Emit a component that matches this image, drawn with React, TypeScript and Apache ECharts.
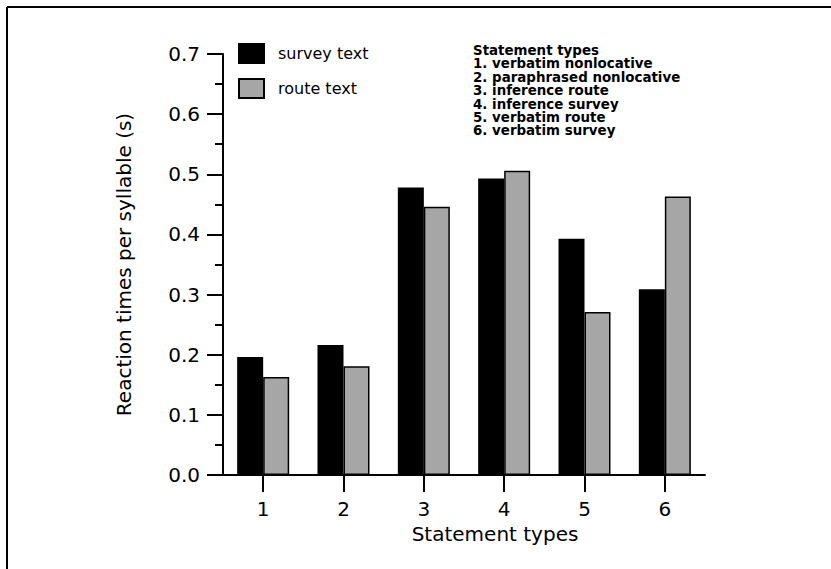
import React, { useEffect, useRef } from "react";
import * as echarts from "echarts";

const categories = ["1", "2", "3", "4", "5", "6"];
const surveyText = [0.196, 0.216, 0.478, 0.493, 0.393, 0.309];
const routeText = [0.163, 0.181, 0.446, 0.506, 0.271, 0.463];
const seriesNames = ["survey text", "route text"];
const statementTypes = [
  "Statement types",
  "1. verbatim nonlocative",
  "2. paraphrased nonlocative",
  "3. inference route",
  "4. inference survey",
  "5. verbatim route",
  "6. verbatim survey",
];

const FONT = "DejaVu Sans";

export default function App() {
  const ref = useRef<HTMLDivElement>(null);
  useEffect(() => {
    document.body.style.margin = "0";
    const chart = echarts.init(ref.current!, null, { renderer: "svg" });
    const legendLines = statementTypes.map((t, i) => ({
      type: "text",
      left: 473,
      top: 44 + i * 13.4,
      style: {
        text: t,
        fontFamily: FONT,
        fontSize: 13.4,
        fontWeight: "bold",
        fill: "#000",
      },
    }));
    chart.setOption({
      animation: false,
      backgroundColor: "#fff",
      textStyle: { fontFamily: FONT, color: "#000" },
      grid: { left: 223, right: 126, top: 54, bottom: 94, containLabel: false },
      legend: {
        data: seriesNames,
        orient: "vertical",
        left: 238,
        top: 43,
        padding: 0,
        itemWidth: 25,
        itemHeight: 19,
        itemGap: 14,
        icon: "rect",
        textStyle: { fontFamily: FONT, fontSize: 16, color: "#000", padding: [0, 0, 0, 9] },
      },
      xAxis: {
        type: "category",
        data: categories,
        axisLine: { lineStyle: { color: "#000", width: 2 } },
        axisTick: { show: true, alignWithLabel: true, length: 17, lineStyle: { color: "#000", width: 2 } },
        axisLabel: { fontFamily: FONT, fontSize: 20, color: "#000", margin: 24 },
        name: "Statement types",
        nameLocation: "middle",
        nameGap: 46,
        nameTextStyle: { fontFamily: FONT, fontSize: 20, color: "#000", padding: [0, 0, 0, 62] },
      },
      yAxis: {
        type: "value",
        min: 0,
        max: 0.7,
        interval: 0.1,
        axisLine: { show: true, lineStyle: { color: "#000", width: 2 } },
        axisTick: { show: true, length: 16, lineStyle: { color: "#000", width: 2 } },
        minorTick: { show: true, splitNumber: 2, length: 8, lineStyle: { color: "#000", width: 2 } },
        splitLine: { show: false },
        axisLabel: {
          fontFamily: FONT,
          fontSize: 20,
          color: "#000",
          margin: 23,
          formatter: (v: number) => v.toFixed(1),
        },
        name: "Reaction times per syllable (s)",
        nameLocation: "middle",
        nameRotate: 90,
        nameGap: 89,
        nameTextStyle: { fontFamily: FONT, fontSize: 20, color: "#000" },
      },
      series: [
        {
          name: seriesNames[0],
          type: "bar",
          data: surveyText,
          barWidth: 26,
          barGap: "0%",
          itemStyle: { color: "#000", borderColor: "#000", borderWidth: 1.5 },
        },
        {
          name: seriesNames[1],
          type: "bar",
          data: routeText,
          barWidth: 26,
          barGap: "0%",
          itemStyle: { color: "#a6a6a6", borderColor: "#000", borderWidth: 1.5 },
        },
      ],
      graphic: [
        {
          type: "line",
          shape: { x1: 7, y1: 7, x2: 831, y2: 7 },
          style: { stroke: "#000", lineWidth: 2 },
        },
        {
          type: "line",
          shape: { x1: 7, y1: 7, x2: 7, y2: 569 },
          style: { stroke: "#000", lineWidth: 2 },
        },
        ...legendLines,
      ],
    });
    return () => chart.dispose();
  }, []);
  return <div ref={ref} style={{ width: 831, height: 569 }} />;
}
